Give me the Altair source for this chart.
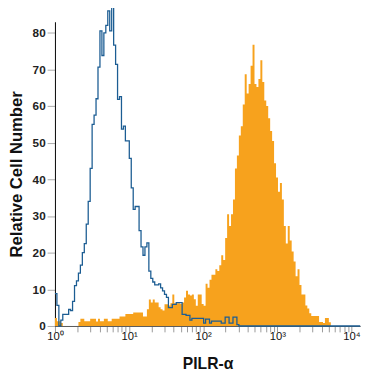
import altair as alt
import pandas as pd

# Histogram bin width in log10 units (bins start at 10^0)
bin_width_log = 0.0264

# Isotype control (blue outline)
blue_counts = [
    8.8, 5.6, 0, 1.6, 3.2, 3.2, 3.2, 4.5, 4.2, 6.7,
    11, 12.3, 14.4, 16.6, 20, 22.5, 27.8, 34, 43, 55,
    57.5, 62, 70.6, 80.5, 73.8, 80, 82, 86, 80.5, 87,
    76.6, 71.4, 61.8, 62.6, 53.7, 54.5, 50.5, 50.5, 45.7, 37.7,
    31.8, 32.6, 32.6, 26, 21.6, 19.3, 21.6, 22.7, 15, 13,
    12, 11.2, 11.2, 11.5, 10.4, 9.6, 8.6, 7.8, 5, 5,
    5.9, 5.9, 6.4, 6.4, 6.4, 3.2, 3.2, 2.9, 2.9, 1.6,
    2.1, 2.1, 2.1, 2.1, 2.1, 2.1, 0.8, 1.9, 1.9, 0.8,
    1.3, 1.3, 1.3, 1.3, 1.3, 0.8, 0.8, 2.4, 2.4, 0.8,
    0.8, 2.4, 2.4, 0.4, 0, 0, 0, 0, 0, 0,
    0, 0, 0, 0, 0, 0, 0, 0, 0, 0,
    0, 0, 0, 0, 0, 0, 0, 0, 0, 0,
    0, 0, 0, 0, 0, 0, 0, 0, 0, 0,
    0, 0, 0, 0, 0, 0, 0, 0, 0, 0,
    0, 0, 0, 0, 0, 0, 0, 0, 0, 0,
    0, 0, 0, 0, 0, 0,
]

# PILR-alpha stained (orange filled)
orange_counts = [
    2.2, 1.3, 1.3, 0.8, 0, 0, 0, 0, 0, 0,
    0, 0, 1.1, 2, 2, 1.3, 1.3, 1.3, 2, 2,
    2, 1.2, 2, 1.3, 1.3, 2, 2, 1.3, 1.3, 2,
    2, 2, 2, 2.6, 2.6, 2.6, 3.3, 3.3, 3.3, 3.3,
    3.7, 3.7, 3.7, 3.7, 3.7, 2.6, 2.6, 4.6, 7.2, 6.4,
    7.2, 6.4, 6.4, 5.1, 4.6, 4.2, 5.9, 5.9, 5.6, 6.2,
    8.6, 6.2, 6.2, 6.2, 6, 6.4, 7.8, 9.6, 8.6, 8.3,
    8.6, 7.3, 5.5, 8.6, 8.6, 6, 5.5, 11.5, 10.4, 12.6,
    14, 14, 15.5, 15, 16.6, 19.3, 18, 24, 30.5, 27.3,
    30.5, 34.5, 43, 46.5, 52, 54.5, 60.4, 68.7, 63.4, 66,
    71, 76.7, 66, 65.2, 67.4, 72.5, 66.6, 61.5, 60, 56.7,
    53.2, 50.5, 44.4, 40.5, 36.6, 39, 34.5, 27.3, 22.5, 27.3,
    23.3, 20.3, 17.6, 13.6, 15.5, 11.2, 8.6, 8.6, 5.6, 4.8,
    3.5, 2.7, 2.7, 2.7, 2.7, 1.1, 1.1, 0.8, 2.2, 2.2,
    1, 0, 0, 0, 0, 0, 0, 0, 0, 0,
    0, 0, 0, 0, 0, 0,
]

y_ticks = [0, 10, 20, 30, 40, 50, 60, 70, 80]
x_ticks = [1, 2, 3, 4, 5, 6, 7, 8, 9,
           10, 20, 30, 40, 50, 60, 70, 80, 90,
           100, 200, 300, 400, 500, 600, 700, 800, 900,
           1000, 2000, 3000, 4000, 5000, 6000, 7000, 8000, 9000,
           10000]

n = len(blue_counts)
edges = [10 ** (i * bin_width_log) for i in range(n + 1)]
rows = [{"x": edges[i], "blue": blue_counts[i], "orange": orange_counts[i]} for i in range(n)]
rows.append({"x": edges[n], "blue": blue_counts[-1], "orange": orange_counts[-1]})
df = pd.DataFrame(rows)

FONT = "Liberation Sans"
xscale = alt.Scale(type="log", domain=[1, edges[n]], nice=False)
yscale = alt.Scale(domain=[0, 83], nice=False, zero=True)

label_expr = ("datum.value == 1 ? '10⁰' : datum.value == 10 ? '10¹' : "
              "datum.value == 100 ? '10²' : datum.value == 1000 ? '10³' : "
              "datum.value == 10000 ? '10⁴' : ''")

x_axis = alt.Axis(values=x_ticks, labelExpr=label_expr, grid=False,
                  tickSize=6, tickColor="#999", domainColor="#555",
                  labelFont=FONT, labelFontSize=11.5, labelColor="#111",
                  labelPadding=-1, labelFlush=False, labelOverlap=False,
                  title="PILR-α", titleFont=FONT, titleFontSize=16,
                  titleFontWeight="bold", titleColor="#111", titlePadding=14)
y_axis = alt.Axis(values=y_ticks, grid=False, tickSize=8, tickColor="#aaa",
                  domainColor="#000", labelFont=FONT, labelFontSize=12,
                  labelFontWeight="bold", labelColor="#222", labelPadding=2,
                  labelOverlap=False, tickCount=9,
                  title="Relative Cell Number", titleFont=FONT,
                  titleFontSize=17, titleFontWeight="bold", titleColor="#111",
                  titlePadding=7)

area = alt.Chart(df).mark_area(interpolate="step-after", color="#f7a21d", opacity=1).encode(
    x=alt.X("x:Q", scale=xscale, axis=x_axis),
    y=alt.Y("orange:Q", scale=yscale, axis=y_axis),
)
line = alt.Chart(df).mark_line(interpolate="step-after", color="#1c5d93", strokeWidth=1.3).encode(
    x=alt.X("x:Q", scale=xscale, axis=x_axis),
    y=alt.Y("blue:Q", scale=yscale, axis=y_axis),
)

chart = alt.layer(area, line).resolve_axis(x="shared", y="shared").properties(
    width=312, height=311,
    padding={"left": 48, "top": 10, "right": 7, "bottom": 45},
    autosize=alt.AutoSizeParams(type="none"),
).configure_view(stroke=None)

chart.save("out.html", embed_options={"renderer": "svg", "actions": False})
